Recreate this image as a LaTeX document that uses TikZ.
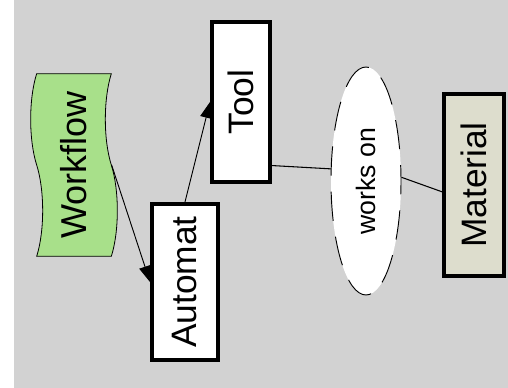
\documentclass[tikz,border=0pt]{standalone}
\usepackage{fontspec}
\setmainfont{Liberation Sans}
\usetikzlibrary{arrows.meta,shapes.geometric,shapes.symbols,calc}
\definecolor{bggray}{RGB}{210,210,210}
\definecolor{wfgreen}{RGB}{168,224,138}
\definecolor{matbeige}{RGB}{221,221,205}
\tikzset{
    box/.style={
        draw,
        rotate=90,
        line width=3pt,
        inner sep=0pt,
        fill=white,
        font=\fontsize{26.5}{30}\selectfont
    },
    matbox/.style={
        box,
        fill=matbeige
    },
    wfnode/.style={
        draw,
        tape,
        rotate=90,
        tape bend height=9pt,
        inner sep=0pt,
        line width=0.6pt,
        fill=wfgreen,
        font=\fontsize{27}{30}\selectfont
    },
    relnode/.style={
        draw,
        ellipse,
        rotate=90,
        inner sep=0pt,
        line width=0.7pt,
        dash pattern=on 22pt off 12pt,
        fill=white,
        font=\fontsize{20}{24}\selectfont
    },
    flow/.style={-{Triangle[length=12pt,width=9pt]}, line width=0.7pt},
    link/.style={line width=0.8pt}
}

\begin{document}
\begin{tikzpicture}[x=0.75pt, y=-0.75pt]
    % page and grey ground
    \useasboundingbox (0,0) rectangle (508,388);
    \fill[bggray] (14,0) rectangle (508,388);

    \node[wfnode, minimum width=137pt, minimum height=65pt] (wf) at (74,165) {Workflow};
    \node[box, minimum width=117pt, minimum height=49.5pt] (auto) at (185,282) {Automat};
    \node[box, minimum width=120pt, minimum height=43.5pt] (tool) at (241,102) {Tool};
    \node[relnode, minimum width=171pt, minimum height=52.5pt] (wo) at (366,181) {works on};
    \node[matbox, minimum width=136.5pt, minimum height=45pt] (mat) at (474,185) {Material};

    % rotated nodes: north is on the left, east on top
    \draw[flow] (wf.south) -- (auto.north);
    \draw[flow] (auto.east) -- (tool.north);
    \draw[link] (tool.-154) -- (wo.71);
    \draw[link] (wo.-84) -- (mat.102);
\end{tikzpicture}
\end{document}
